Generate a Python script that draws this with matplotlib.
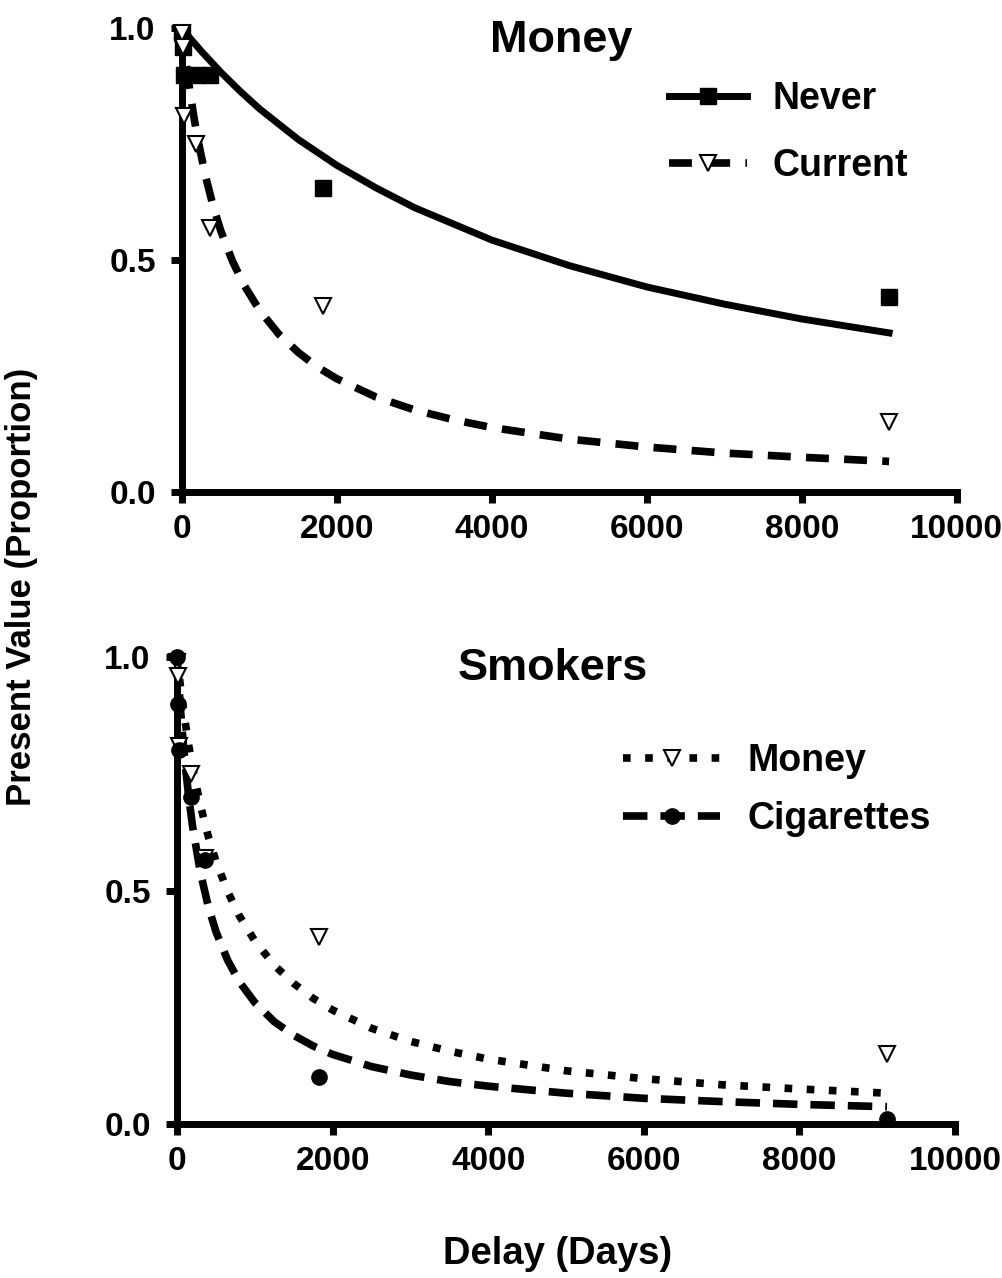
import matplotlib
matplotlib.use("Agg")
import matplotlib.pyplot as plt

plt.rcParams['font.family'] = ['Liberation Sans', 'DejaVu Sans']
plt.rcParams['font.weight'] = 'bold'

# observed points (delay in days, proportion of the amount)
delays = [1, 7, 30, 183, 365, 1825, 9125]
never_pts = [0.99, 0.96, 0.90, 0.90, 0.90, 0.655, 0.42]
current_pts = [0.99, 0.96, 0.81, 0.75, 0.57, 0.40, 0.15]
money_pts = [0.99, 0.96, 0.81, 0.75, 0.57, 0.40, 0.15]
cig_pts = [1.00, 0.90, 0.80, 0.70, 0.565, 0.10, 0.01]

# fitted curves
never_d = [0, 100, 250, 500, 750, 1000, 1500, 2000, 2500, 3000, 4000, 5000, 6000, 7000, 8000, 9125]
never_fit = [1.0, 0.979, 0.950, 0.905, 0.864, 0.826, 0.760, 0.704, 0.656, 0.613, 0.543, 0.488, 0.442,
             0.405, 0.373, 0.343]

fit_d = [0, 50, 100, 150, 200, 300, 400, 500, 650, 800, 1000, 1250, 1500, 1750, 2000, 2500, 3000,
         3500, 4000, 5000, 6000, 7000, 8000, 9125]
current_fit = [1.0, 0.928, 0.866, 0.811, 0.763, 0.683, 0.617, 0.563, 0.498, 0.446, 0.392, 0.340, 0.301,
               0.269, 0.244, 0.205, 0.177, 0.156, 0.139, 0.114, 0.097, 0.084, 0.075, 0.066]
money_fit = current_fit
cig_fit = [1.0, 0.875, 0.778, 0.701, 0.637, 0.539, 0.467, 0.412, 0.351, 0.305, 0.260, 0.219, 0.190,
           0.167, 0.149, 0.123, 0.105, 0.091, 0.081, 0.066, 0.055, 0.048, 0.042, 0.037]

xticks = [0, 2000, 4000, 6000, 8000, 10000]
yticks = [0.0, 0.5, 1.0]


def style_axes(ax):
    ax.set_xlim(0, 10000)
    ax.set_ylim(0, 1.0)
    ax.spines['top'].set_visible(False)
    ax.spines['right'].set_visible(False)
    ax.spines['left'].set_linewidth(5)
    ax.spines['bottom'].set_linewidth(5)
    ax.set_xticks(xticks)
    ax.set_yticks(yticks)
    ax.set_yticklabels(['0.0', '0.5', '1.0'])
    ax.tick_params(width=5, length=8, labelsize=24)
    ax.tick_params(axis='x', pad=8)
    ax.tick_params(axis='y', pad=11)
    for lab in ax.get_xticklabels() + ax.get_yticklabels():
        lab.set_fontweight('bold')


fig = plt.figure(figsize=(10.03, 12.78), dpi=100)

# top: money, never vs current smokers
ax1 = fig.add_axes([0.1815, 0.615, 0.7725, 0.363])
ax1.plot(never_d, never_fit, color='black', lw=5, zorder=3)
ax1.plot(fit_d, current_fit, color='black', lw=5.5, dashes=(3, 2), zorder=3)
ax1.plot(delays, never_pts, ls='none', marker='s', ms=12, color='black', clip_on=False, zorder=4)
ax1.plot(delays, current_pts, ls='none', marker='v', ms=12, mfc='white', mec='black', mew=1.5,
         clip_on=False, zorder=4)
h1, = ax1.plot([], [], color='black', lw=5, marker='s', ms=12)
h2, = ax1.plot([], [], color='black', lw=5.5, dashes=(3, 2), marker='v', ms=12, mfc='white',
               mec='black', mew=1.5)
ax1.legend([h1, h2], ['Never', 'Current'], loc='upper left', bbox_to_anchor=(0.628, 0.885),
           frameon=False, fontsize=27, handlelength=2.1, handletextpad=0.68, labelspacing=0.82,
           numpoints=1, borderpad=0, borderaxespad=0)
ax1.text(0.489, 0.974, 'Money', transform=ax1.transAxes, ha='center', va='center', fontsize=32.5,
         fontweight='bold')
style_axes(ax1)

# bottom: smokers, money vs cigarettes
ax2 = fig.add_axes([0.1765, 0.1205, 0.7757, 0.3654])
ax2.plot(fit_d, money_fit, color='black', lw=5.5, dashes=(1, 1.9), zorder=3)
ax2.plot(fit_d, cig_fit, color='black', lw=5.5, dashes=(3.2, 1.7), zorder=3)
ax2.plot(delays, money_pts, ls='none', marker='v', ms=12, mfc='white', mec='black', mew=1.5,
         clip_on=False, zorder=4)
ax2.plot(delays, cig_pts, ls='none', marker='o', ms=11, color='black', clip_on=False, zorder=4)
h3, = ax2.plot([], [], color='black', lw=5.5, dashes=(1, 1.9), marker='v', ms=12, mfc='white',
               mec='black', mew=1.5)
h4, = ax2.plot([], [], color='black', lw=5.5, dashes=(3.2, 1.7), marker='o', ms=11)
ax2.legend([h3, h4], ['Money', 'Cigarettes'], loc='upper left', bbox_to_anchor=(0.573, 0.8165),
           frameon=False, fontsize=27, handlelength=2.6, handletextpad=0.72, labelspacing=0.6,
           numpoints=1, borderpad=0, borderaxespad=0)
ax2.text(0.483, 0.976, 'Smokers', transform=ax2.transAxes, ha='center', va='center', fontsize=32.5,
         fontweight='bold')
style_axes(ax2)

fig.text(22 / 1003, 1 - 587 / 1278, 'Present Value (Proportion)', rotation=90, ha='center',
         va='center', fontsize=25, fontweight='bold')
fig.text(558 / 1003, 1 - 1254 / 1278, 'Delay (Days)', ha='center', va='center', fontsize=27.5,
         fontweight='bold')

fig.savefig('out.png', dpi=100)
